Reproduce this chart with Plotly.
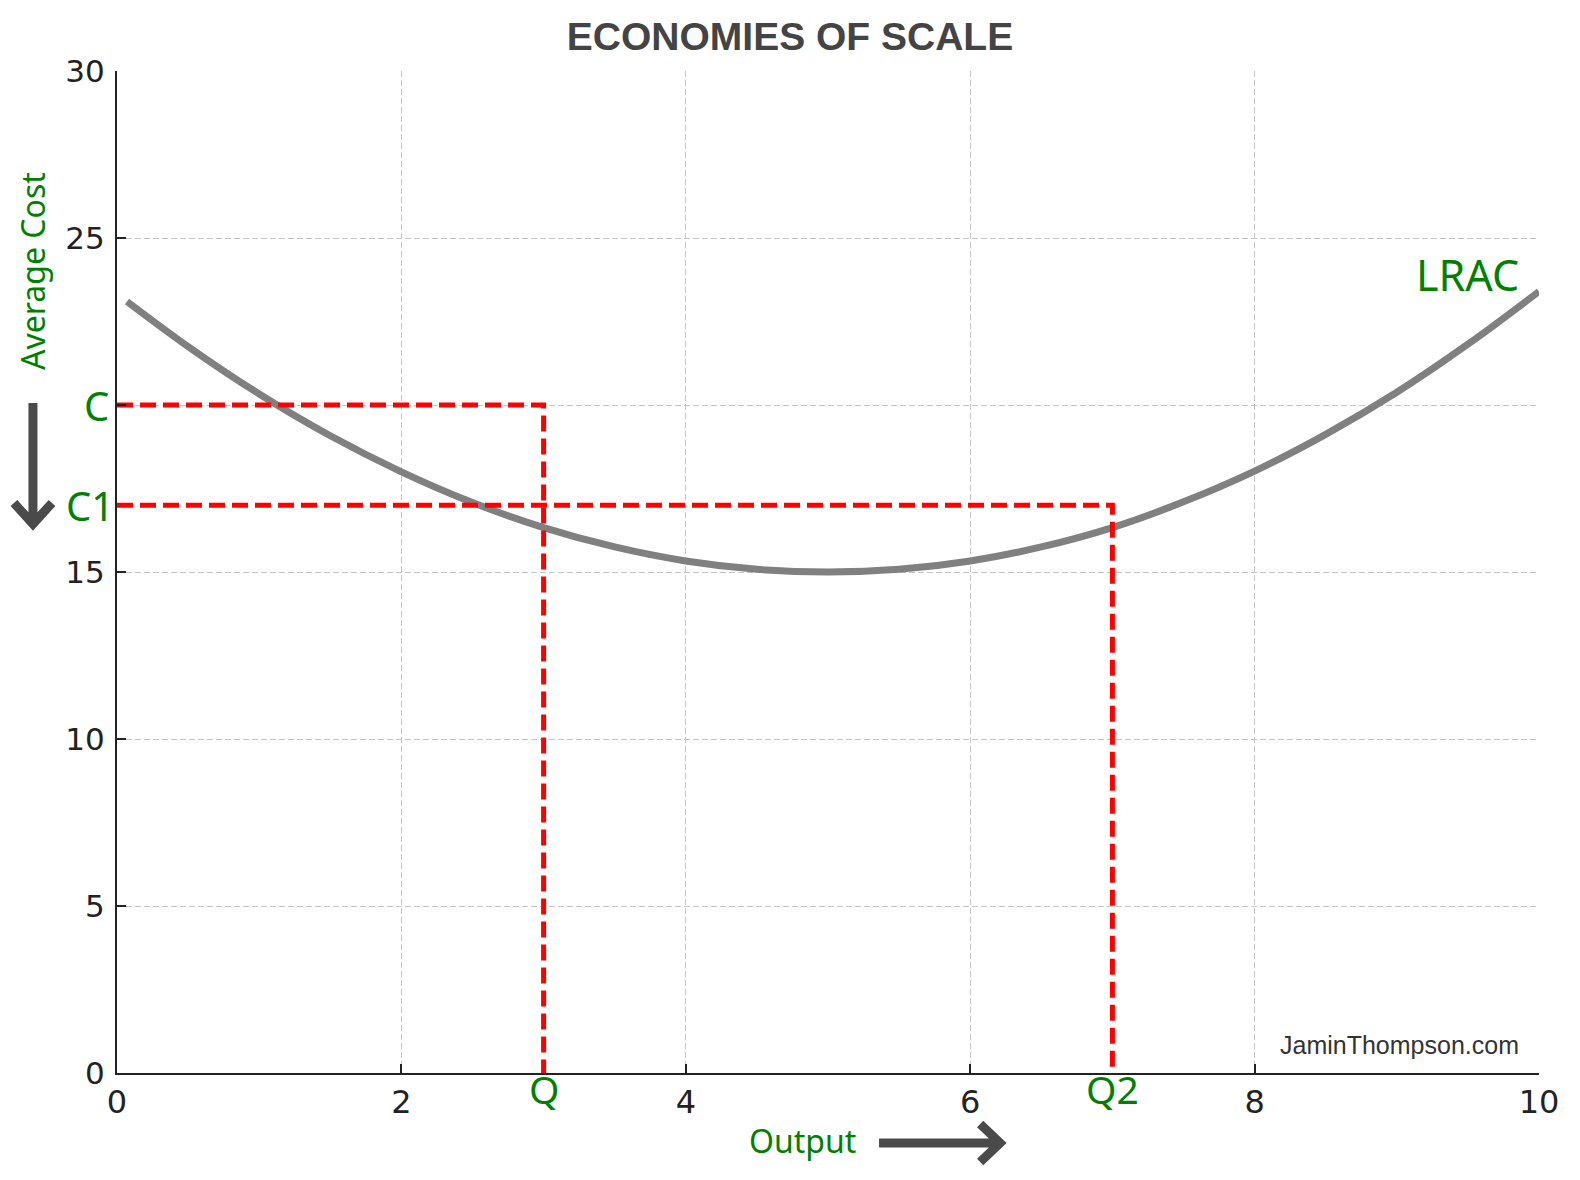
import plotly.graph_objects as go

# LRAC curve values
output_x = [0.07, 0.5, 1.0, 1.5, 2.0, 2.5, 3.0, 3.5, 4.0, 4.5, 5.0,
            5.5, 6.0, 6.5, 7.0, 7.5, 8.0, 8.5, 9.0, 9.5, 10.0]
lrac_y = [23.1, 21.75, 20.33, 19.08, 18.0, 17.08, 16.33, 15.75, 15.33, 15.08, 15.0,
          15.08, 15.33, 15.75, 16.33, 17.1, 18.02, 19.12, 20.38, 21.82, 23.4]

# cost / output reference levels
q_levels = [3, 7]
c_levels = [20, 17]
q_labels = ["Q", "Q2"]
c_labels = ["C", "C1"]

x_ticks = [0, 2, 4, 6, 8, 10]
x_ticktext = ["0", "2", "4", "6", "8", "10"]
y_ticks = [0, 5, 10, 15, 20, 25, 30]
y_ticktext = ["0", "5", "10", "15", "", "25", "30"]

GREEN = "#008000"
ARROW = "#4a4a4a"

fig = go.Figure()

fig.add_trace(go.Scatter(x=output_x, y=lrac_y, mode="lines",
                         line=dict(color="#808080", width=7, shape="spline"),
                         hoverinfo="skip"))

for q, c in zip(q_levels, c_levels):
    fig.add_trace(go.Scatter(x=[0, q, q], y=[c, c, 0], mode="lines",
                             line=dict(color="#ff0000", width=5, dash="16px,7px"),
                             hoverinfo="skip"))

annotations = []
for lab, c, sh in zip(c_labels, c_levels, [-6, -1]):
    annotations.append(dict(text=lab, x=0, xref="paper", y=c, yref="y",
                            xanchor="right", yanchor="middle", xshift=sh,
                            showarrow=False, font=dict(family="Noto Sans", size=40, color=GREEN)))
for lab, q in zip(q_labels, q_levels):
    annotations.append(dict(text=lab, x=q, xref="x", y=0, yref="paper",
                            xanchor="center", yanchor="middle", yshift=-15,
                            showarrow=False, font=dict(family="Noto Sans", size=39, color=GREEN)))

annotations += [
    dict(text="LRAC", x=9.87, xref="x", y=23.9, yref="y", xanchor="right", yanchor="middle",
         showarrow=False, font=dict(family="Noto Sans", size=43, color=GREEN)),
    dict(text="Output", x=0.4824, xref="paper", y=-0.0669, yref="paper",
         xanchor="center", yanchor="middle", showarrow=False,
         font=dict(family="Noto Sans", size=32, color=GREEN)),
    dict(text="Average Cost", x=-0.0591, xref="paper", y=0.8004, yref="paper",
         xanchor="center", yanchor="middle", textangle=-90, showarrow=False,
         font=dict(family="Noto Sans", size=32, color=GREEN)),
    dict(text="JaminThompson.com", x=9.87, xref="x", y=0.85, yref="y",
         xanchor="right", yanchor="middle", showarrow=False,
         font=dict(family="Liberation Sans", size=25, color="#333333")),
]

shapes = [
    # down arrow (left)
    dict(type="path", xref="paper", yref="paper",
         path="M -0.0591 0.6687 L -0.0591 0.5479 M -0.0725 0.5689 L -0.0591 0.5479 L -0.0457 0.5689",
         line=dict(color=ARROW, width=9)),
    # right arrow (bottom)
    dict(type="path", xref="paper", yref="paper",
         path="M 0.5359 -0.0699 L 0.6210 -0.0699 M 0.6070 -0.0509 L 0.6210 -0.0699 L 0.6070 -0.0888",
         line=dict(color=ARROW, width=9)),
]

fig.update_layout(
    width=1580, height=1180,
    margin=dict(l=117, r=41, t=71, b=107),
    paper_bgcolor="white", plot_bgcolor="white",
    showlegend=False,
    title=dict(text="<b>ECONOMIES OF SCALE</b>", x=0.5, xref="container", xanchor="center",
               y=1 - 36 / 1180, yref="container", yanchor="middle",
               font=dict(family="Liberation Sans", size=39, color="#444444")),
    annotations=annotations,
    shapes=shapes,
)

axis_common = dict(
    showline=True, linecolor="#222222", linewidth=2,
    ticks="inside", ticklen=9, tickwidth=2, tickcolor="#222222",
    showgrid=True, gridcolor="#c4c4c4", gridwidth=1, griddash="6px,3px",
    zeroline=False,
)

fig.update_xaxes(range=[0, 10], tickvals=x_ticks, ticktext=x_ticktext,
                 ticklabelstandoff=0,
                 tickfont=dict(family="DejaVu Sans", size=32, color="#222222"),
                 **axis_common)
fig.update_yaxes(range=[0, 30], tickvals=y_ticks, ticktext=y_ticktext,
                 ticklabelstandoff=4,
                 tickfont=dict(family="DejaVu Sans", size=31, color="#222222"),
                 **axis_common)

fig.write_html("out.html")
